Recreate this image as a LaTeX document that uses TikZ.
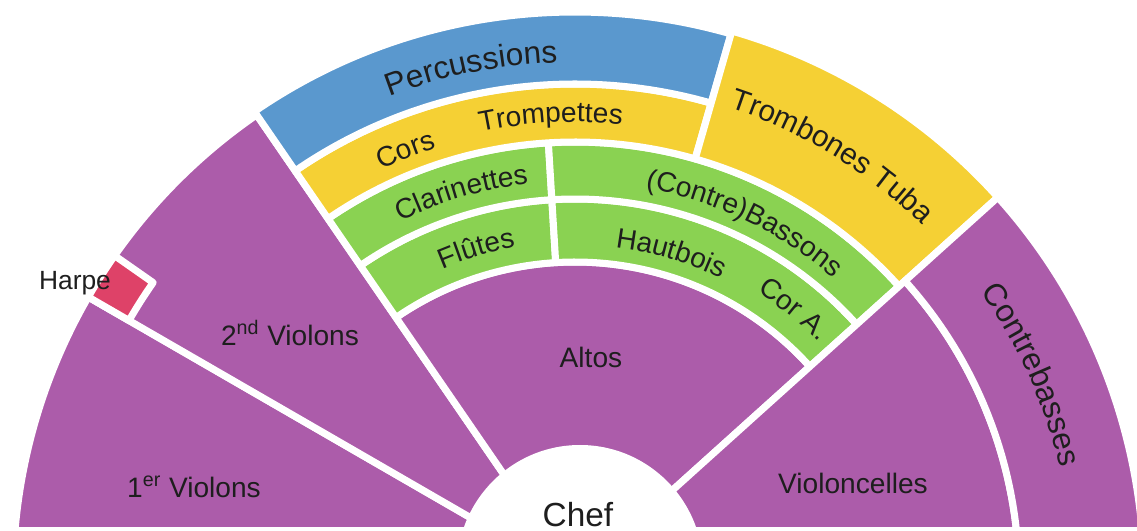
\documentclass[tikz,border=0pt]{standalone}
\usepackage{fontspec}
\setmainfont{Liberation Sans}
\usetikzlibrary{decorations.text}

\definecolor{strings}{RGB}{172,92,170}
\definecolor{percus}{RGB}{90,152,206}
\definecolor{brass}{RGB}{245,208,52}
\definecolor{winds}{RGB}{138,210,82}
\definecolor{harp}{RGB}{222,66,104}
\definecolor{ink}{RGB}{30,30,30}

% colour, from angle, to angle, inner radius, outer radius
\newcommand{\desk}[5]{\filldraw[desk, fill=#1] (#2:#4) -- (#2:#5) arc (#2:#3:#5) -- (#3:#4) arc (#3:#2:#4) -- cycle;}
% size, centre angle, baseline radius, half span, text
\newcommand{\arclabel}[5]{\path[decorate, decoration={text along path, text align=center,
    text={|\color{ink}\fontsize{#1}{#1}\selectfont|#5}}] (#2+#4:#3) arc (#2+#4:#2-#4:#3);}

\begin{document}
\begin{tikzpicture}[x=0.02cm, y=0.02cm,
    desk/.style={draw=white, line width=4pt, line join=round},
    lbl/.style={font=\fontsize{16}{18}\selectfont, text=ink}]
  \useasboundingbox (-575,47) rectangle (562,578);
  \begin{scope}
    \clip (-575,51) rectangle (562,578);
    \desk{strings}{150}{185}{90}{562}
    \desk{strings}{124.5}{150}{90}{562}
    \desk{harp}{145}{150}{515}{562}
    \desk{strings}{42}{124.5}{90}{316}
    \desk{winds}{93.5}{124.5}{316}{379}
    \desk{winds}{42}{93.5}{316}{379}
    \desk{winds}{93.5}{124.5}{379}{436}
    \desk{winds}{42}{93.5}{379}{436}
    \desk{brass}{74}{124.5}{436}{494}
    \desk{percus}{74}{124.5}{494}{566}
    \desk{brass}{42}{74}{436}{569}
    \desk{strings}{-5}{42}{90}{444}
    \desk{strings}{-5}{42}{444}{569}
    \fill[white] (5,10) circle (123);
  \end{scope}

  \node[lbl] (first) at (-381,91) {1\textsuperscript{er} Violons};
  \node[lbl] (second) at (-285,245) {2\textsuperscript{nd} Violons};
  \node[lbl] (altos) at (16,221) {Altos};
  \node[lbl] (cello) at (278,95) {Violoncelles};
  \node[lbl, font=\fontsize{19}{20}\selectfont] (chef) at (3,63) {Chef};
  \node[lbl, font=\fontsize{15}{17}\selectfont] (harpe) at (-500,295) {Harpe};

  \arclabel{18}{101.5}{516}{14}{Percussions}
  \arclabel{16}{111.6}{452}{6}{Cors}
  \arclabel{16}{93}{456}{12}{Trompettes}
  \arclabel{16}{106.4}{397}{12}{Clarinettes}
  \arclabel{16}{106.7}{336}{9}{Flûtes}
  \arclabel{16}{64.5}{396}{20}{(Contre)Bassons}
  \arclabel{16}{73.5}{333}{13}{Hautbois}
  \arclabel{16}{50.8}{339}{9}{Cor A.}
  \arclabel{17}{58.6}{495}{17}{Trombones Tuba}
  \arclabel{18}{24}{497}{14}{Contrebasses}
\end{tikzpicture}
\end{document}
